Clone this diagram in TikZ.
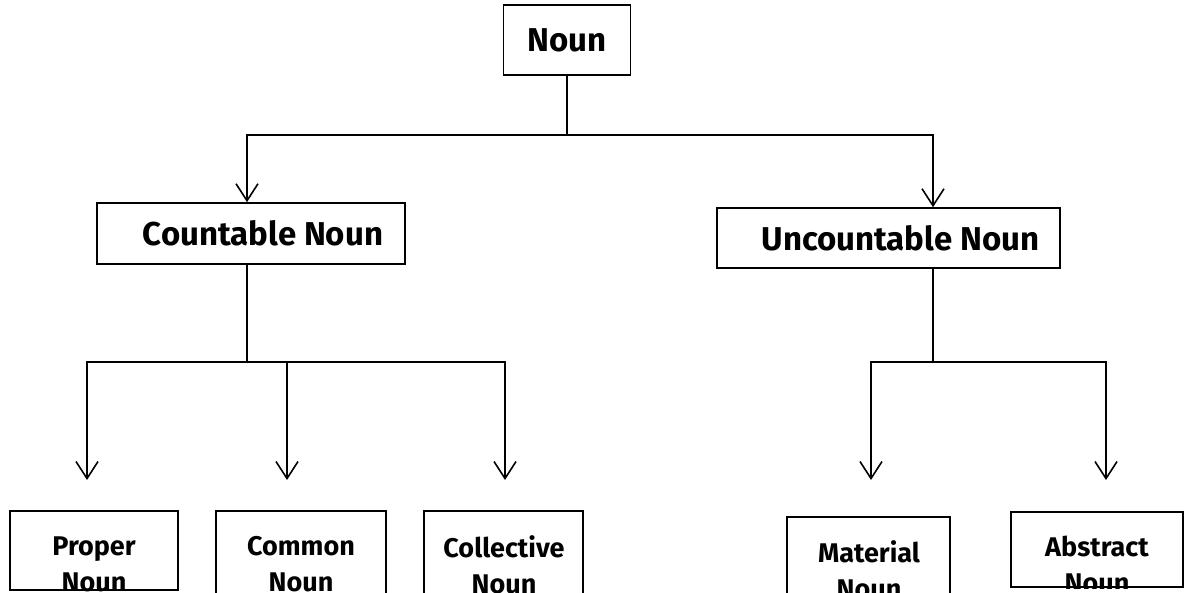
\documentclass[tikz,border=0pt]{standalone}
\usepackage{fontspec}
\setmainfont{Fira Sans}
\usetikzlibrary{arrows.meta}

\begin{document}
\begin{tikzpicture}[x=1pt, y=-1pt, line width=1.6pt,
  box/.style={draw, inner sep=0pt},
  lbl/.style={font=\fontsize{33}{40}\selectfont\bfseries},
  sublbl/.style={font=\fontsize{27}{36}\selectfont\bfseries, align=center, inner sep=0pt, anchor=north},
  arr/.style={-{Straight Barb[length=17pt, width=22pt]}}]
  % Page frame
  \useasboundingbox (0,0) rectangle (1196,593);

  % Top node
  \node[box, lbl, minimum width=127, minimum height=70] (noun) at (567,40) {Noun};

  % Second level
  \node[box, lbl, minimum width=308, minimum height=61] (count) at (251,233.5) {\hspace*{24pt}Countable Noun};
  \node[box, lbl, minimum width=343, minimum height=60] (uncount) at (888.5,238) {\hspace*{24pt}Uncountable Noun};

  % Junction points
  \coordinate (top) at (567,135);
  \coordinate (cjoin) at (247,362);
  \coordinate (ujoin) at (933,362);

  % Arrow ends above the bottom boxes
  \coordinate (propertip) at (87,480);
  \coordinate (commontip) at (287,480);
  \coordinate (colltip) at (505,480);
  \coordinate (mattip) at (871,480);
  \coordinate (abstip) at (1106,480);

  % Bottom level boxes
  \node[box, minimum width=168, minimum height=79] (proper) at (94,550.5) {};
  \node[box, minimum width=170, minimum height=89] (common) at (301,555.5) {};
  \node[box, minimum width=159, minimum height=89] (coll) at (503.5,555.5) {};
  \node[box, minimum width=163, minimum height=83] (mat) at (868.5,558.5) {};
  \node[box, minimum width=172, minimum height=75] (abs) at (1097,549.5) {};

  % Bottom level texts
  \node[sublbl] (propertext) at (94,536) {Proper\\Noun};
  \node[sublbl] (commontext) at (301,536) {Common\\Noun};
  \node[sublbl] (colltext) at (504,535) {Collective\\Noun};
  \node[sublbl] (mattext) at (869,540) {Material\\Noun};
  \node[sublbl] (abstext) at (1097,535) {Abstract\\Noun};

  % Text running out of the box is hidden
  \fill[white] ([yshift=-0.8pt]proper.south west) rectangle ([yshift=-30pt]proper.south east);
  \fill[white] ([yshift=-0.8pt]abs.south west) rectangle ([yshift=-30pt]abs.south east);

  % Connectors from Noun
  \draw (noun.south -| top) -- (top);
  \draw[arr] (top) -| (cjoin |- count.north);
  \draw[arr] (top) -| (ujoin |- uncount.north);

  % Connectors from Countable Noun
  \draw (cjoin |- count.south) -- (cjoin);
  \draw[arr] (cjoin) -| (propertip);
  \draw[arr] (cjoin) -| (commontip);
  \draw[arr] (cjoin) -| (colltip);

  % Connectors from Uncountable Noun
  \draw (ujoin |- uncount.south) -- (ujoin);
  \draw[arr] (ujoin) -| (mattip);
  \draw[arr] (ujoin) -| (abstip);
\end{tikzpicture}
\end{document}
